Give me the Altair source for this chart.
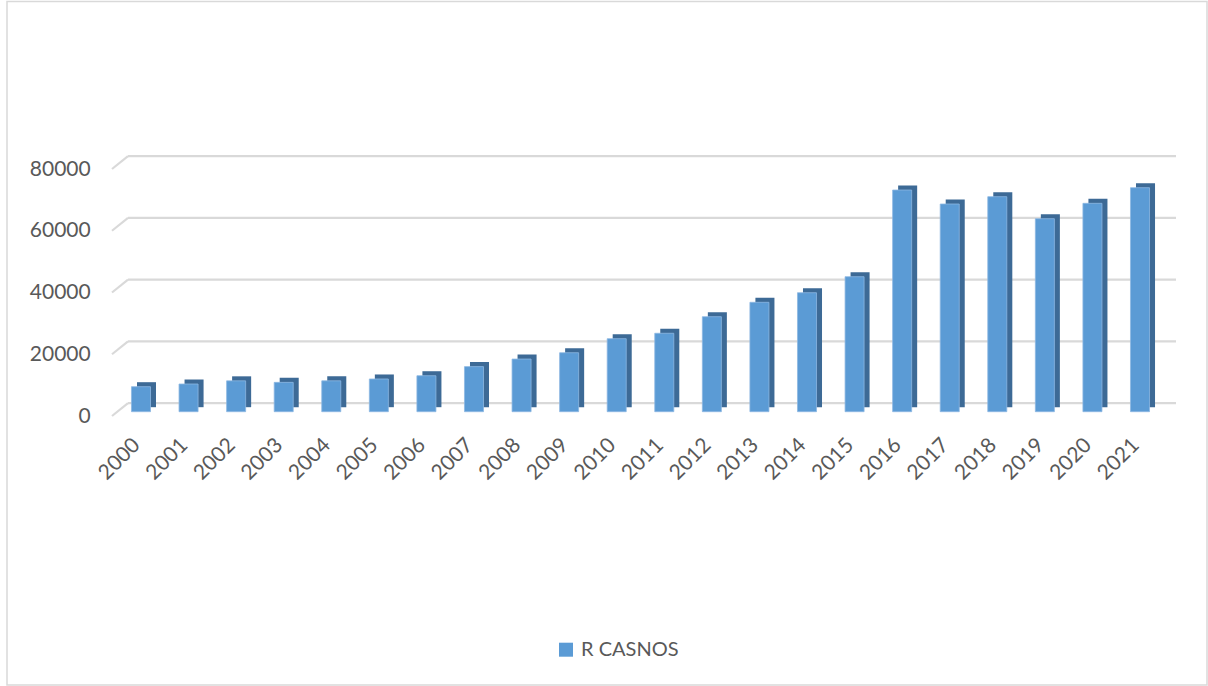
import altair as alt
import pandas as pd

# Annual counts, R CASNOS
years = [str(y) for y in range(2000, 2022)]
values = [8100, 8970, 10000, 9500, 10000, 10600, 11650, 14600, 17050, 19100,
          23650, 25400, 30770, 35430, 38540, 43720, 71800, 67270, 69640, 62510,
          67490, 72550]
series_name = "R CASNOS"
y_ticks = [0, 20000, 40000, 60000, 80000]

FRONT = "#5B9BD5"
SIDE = "#3D6A96"
GRID = "#D9D9D9"
TEXT = "#595959"
FONT = "Lato"

W, H = 1046.6, 247
LEFT, TOP = 117.2, 164.7
CANVAS_W, CANVAS_H = 1208, 686

df = pd.DataFrame({"year": years, "value": values, "series": series_name})
grid_df = pd.DataFrame({"value": y_ticks})

x_scale = alt.Scale(paddingInner=0.6, paddingOuter=0.3)
y_scale = alt.Scale(domain=[0, 80000], nice=False)

x_axis = alt.Axis(
    labelAngle=-45, labelAlign="right", labelBaseline="middle",
    labelPadding=30, labelOffset=-4, ticks=False, tickSize=0,
    domain=False, grid=False, labelFont=FONT, labelFontSize=21,
    labelColor=TEXT,
)
y_axis = alt.Axis(
    values=y_ticks, format="d", labelPadding=27, labelOffset=4.3,
    ticks=False, tickSize=0, domain=False, grid=False,
    labelFont=FONT, labelFontSize=21, labelColor=TEXT,
)

# outer frame of the chart
frame = alt.Chart(pd.DataFrame({"k": [0]})).mark_rect(
    fill=None, stroke=GRID, strokeWidth=1.5
).encode(
    x=alt.value(7 - LEFT), x2=alt.value(1207 - LEFT),
    y=alt.value(1.5 - TOP), y2=alt.value(685 - TOP),
)

# back-wall gridlines
back_grid = alt.Chart(grid_df).mark_rule(
    color=GRID, strokeWidth=2.2, yOffset=-8.5
).encode(
    y=alt.Y("value:Q", scale=y_scale, axis=y_axis, title=None),
    x=alt.value(10.8), x2=alt.value(1058.8),
)

# side-wall diagonal segments
side_grid = alt.Chart(grid_df).mark_rule(
    color=GRID, strokeWidth=2.2, yOffset=4.3, y2Offset=-8.5
).encode(
    y=alt.Y("value:Q", scale=y_scale, axis=y_axis, title=None),
    y2="value:Q",
    x=alt.value(-5.2), x2=alt.value(10.8),
)

# depth of each column (top and side faces)
depth = alt.Chart(df).mark_bar(
    color=SIDE, xOffset=5.5, x2Offset=5.5, yOffset=-4.5, y2Offset=-4.5
).encode(
    x=alt.X("year:N", scale=x_scale, axis=x_axis, title=None),
    y=alt.Y("value:Q", scale=y_scale, axis=y_axis, title=None),
)

# front faces
front = alt.Chart(df).mark_bar(stroke="#8DB8E2", strokeWidth=0.8).encode(
    x=alt.X("year:N", scale=x_scale, axis=x_axis, title=None),
    y=alt.Y("value:Q", scale=y_scale, axis=y_axis, title=None),
    color=alt.Color(
        "series:N",
        scale=alt.Scale(domain=[series_name], range=[FRONT]),
        legend=alt.Legend(
            title=None, orient="none", legendX=438.8, legendY=475,
            symbolType="square", symbolSize=196, symbolStrokeWidth=0,
            labelFont=FONT, labelFontSize=20, labelColor=TEXT,
            labelOffset=5,
        ),
    ),
)

chart = alt.layer(frame, back_grid, side_grid, depth, front).properties(
    width=W, height=H,
    autosize=alt.AutoSizeParams(type="none"),
    padding={"left": LEFT, "top": TOP,
             "right": CANVAS_W - LEFT - W, "bottom": CANVAS_H - TOP - H},
    background="white",
).configure_view(stroke=None)

chart.save("out.html", embed_options={"renderer": "svg", "actions": False})
